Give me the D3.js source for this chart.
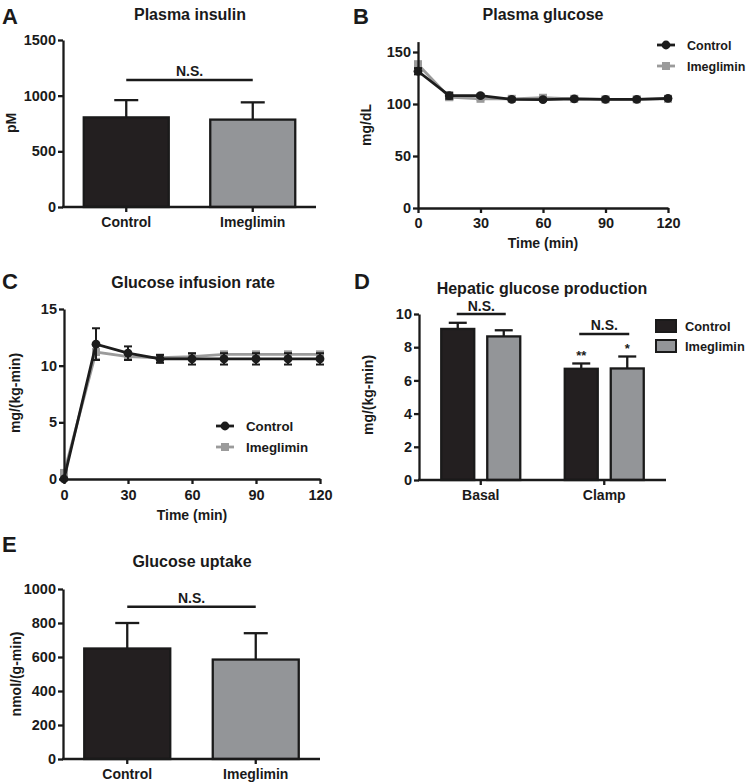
<!DOCTYPE html>
<html><head><meta charset="utf-8">
<script src="https://cdn.jsdelivr.net/npm/d3@7"></script>
<style>
body{margin:0;background:#fff}
text{font-family:"Liberation Sans",Arial,Helvetica,sans-serif;font-weight:bold;fill:#1a1a1a}
</style>
</head><body>
<svg id="c" width="749" height="782"></svg>
<script>
// ---------------- data ----------------
const groups = ["Control", "Imeglimin"];
const insulinMean = [805, 785];
const insulinErr = [155, 155];
const insulinTicks = [0, 500, 1000, 1500];

const timePoints = [0, 15, 30, 45, 60, 75, 90, 105, 120];
const timeTicks = [0, 30, 60, 90, 120];
const glucoseControl = [131.5, 108, 108, 104.5, 104.3, 105, 104.5, 104.5, 105.5];
const glucoseControlErr = [3, 3, 1.5, 1, 1, 1, 1, 1, 1];
const glucoseImeg = [138, 106.5, 105, 105, 106, 105, 104.5, 104.5, 105];
const glucoseImegErr = [3, 2.5, 1, 1, 1, 1, 1, 1, 1];
const glucoseTicks = [0, 50, 100, 150];

const girControl = [0, 11.9, 11.1, 10.6, 10.6, 10.6, 10.6, 10.6, 10.6];
const girControlErr = [0, 1.4, 0.6, 0.35, 0.5, 0.5, 0.5, 0.5, 0.5];
const girImeg = [0.5, 11.2, 10.8, 10.7, 10.8, 11.0, 11.0, 11.0, 11.0];
const girImegErr = [0.3, 0.6, 0.3, 0.2, 0.2, 0.2, 0.2, 0.2, 0.2];
const girTicks = [0, 5, 10, 15];

const hgpPhases = ["Basal", "Clamp"];
const hgpControl = [9.1, 6.7];
const hgpControlErr = [0.37, 0.32];
const hgpImeg = [8.65, 6.72];
const hgpImegErr = [0.37, 0.72];
const hgpControlMarks = ["", "**"];
const hgpImegMarks = ["", "*"];
const hgpTicks = [0, 2, 4, 6, 8, 10];

const uptakeMean = [650, 585];
const uptakeErr = [150, 155];
const uptakeTicks = [0, 200, 400, 600, 800, 1000];

const barFill = { Control: "#231f20", Imeglimin: "#939598" };
const lineCol = { Control: "#1c1c1c", Imeglimin: "#9b9b9b" };

// ---------------- helpers ----------------
const svg = d3.select("#c");
const INK = "#1a1a1a";
const FONT = '"Liberation Sans",Arial,sans-serif';

function styleAxis(a, size) {
  a.select(".domain").attr("stroke", INK).attr("stroke-width", 2.3);
  a.selectAll(".tick line").attr("stroke", INK).attr("stroke-width", 2.3);
  a.selectAll(".tick text").attr("font-size", size).attr("fill", INK)
    .style("font-family", FONT).style("font-weight", "bold");
}
function yAxis(g, y, ticks, x) {
  const a = g.append("g").attr("transform", `translate(${x},0)`)
    .call(d3.axisLeft(y).tickValues(ticks).tickSize(5).tickPadding(2).tickSizeOuter(0).tickFormat(d3.format("d")));
  styleAxis(a, 14.5);
  return a;
}
function xAxisLine(g, x0, x1, y) {
  g.append("line").attr("x1", x0 - 1).attr("x2", x1).attr("y1", y).attr("y2", y)
    .attr("stroke", INK).attr("stroke-width", 2.3);
}
function xAxisScale(g, x, ticks, y, pad) {
  const a = g.append("g").attr("transform", `translate(0,${y})`)
    .call(d3.axisBottom(x).tickValues(ticks).tickSize(5).tickPadding(pad).tickSizeOuter(0));
  styleAxis(a, 14.5);
  return a;
}
function label(txt, x, y, size, anchor = "middle", rot = 0) {
  const t = svg.append("text").attr("font-size", size).attr("text-anchor", anchor).text(txt);
  if (rot) t.attr("transform", `translate(${x},${y}) rotate(${rot})`);
  else t.attr("x", x).attr("y", y);
  return t;
}
function nsBar(x0, x1, y, ty) {
  svg.append("line").attr("x1", x0).attr("x2", x1).attr("y1", y).attr("y2", y)
    .attr("stroke", INK).attr("stroke-width", 2.5);
  label("N.S.", (x0 + x1) / 2, ty, 14);
}

// simple two-bar panel (A and E)
function barPanel(opts) {
  const g = svg.append("g");
  const y = d3.scaleLinear().domain(opts.domain).range([opts.yBot, opts.yTop]);
  const x = d3.scalePoint().domain(groups).range([opts.x0, opts.x1]).padding(0.5);
  const bw = opts.bw;
  const data = groups.map((k, i) => ({ k, v: opts.mean[i], e: opts.err[i] }));
  g.selectAll(".eb").data(data).join("line")
    .attr("x1", d => x(d.k)).attr("x2", d => x(d.k))
    .attr("y1", d => y(d.v)).attr("y2", d => y(d.v + d.e))
    .attr("stroke", INK).attr("stroke-width", 2.3);
  g.selectAll(".cap").data(data).join("line")
    .attr("x1", d => x(d.k) - opts.cap / 2).attr("x2", d => x(d.k) + opts.cap / 2)
    .attr("y1", d => y(d.v + d.e)).attr("y2", d => y(d.v + d.e))
    .attr("stroke", INK).attr("stroke-width", 2.3);
  g.selectAll("rect").data(data).join("rect")
    .attr("x", d => x(d.k) - bw / 2).attr("width", bw)
    .attr("y", d => y(d.v)).attr("height", d => y(0) - y(d.v))
    .attr("fill", d => barFill[d.k]).attr("stroke", INK).attr("stroke-width", 2.3);
  yAxis(g, y, opts.ticks, opts.x0);
  xAxisLine(g, opts.x0, opts.x1, opts.yBot);
  g.selectAll(".ct").data(groups).join("line")
    .attr("x1", d => x(d)).attr("x2", d => x(d)).attr("y1", opts.yBot).attr("y2", opts.yBot + 5)
    .attr("stroke", INK).attr("stroke-width", 2.3);
  g.selectAll(".cl").data(groups).join("text")
    .attr("x", d => x(d)).attr("y", opts.yBot + 20).attr("text-anchor", "middle")
    .attr("font-size", 14).text(d => d);
  const ns = y(opts.nsVal);
  nsBar(x(groups[0]), x(groups[1]), ns, ns - 4);
  return { x, y };
}

// line panel (B and C)
function linePanel(opts) {
  const g = svg.append("g");
  const x = d3.scaleLinear().domain([0, 120]).range([opts.x0, opts.x1]);
  const y = d3.scaleLinear().domain(opts.domain).range([opts.yBot, opts.yTop]);
  const series = [
    { k: "Imeglimin", v: opts.imeg, e: opts.imegErr },
    { k: "Control", v: opts.ctrl, e: opts.ctrlErr }
  ];
  const line = d3.line().x(d => x(d.t)).y(d => y(d.v));
  series.forEach(s => {
    const pts = timePoints.map((t, i) => ({ t, v: s.v[i], e: s.e[i] }));
    const col = lineCol[s.k];
    const eg = g.append("g");
    const withErr = pts.filter(p => p.e > 0);
    eg.selectAll(".v").data(withErr).join("line")
      .attr("x1", d => x(d.t)).attr("x2", d => x(d.t))
      .attr("y1", d => y(d.v - d.e)).attr("y2", d => y(d.v + d.e))
      .attr("stroke", col).attr("stroke-width", 2);
    [1, -1].forEach(sg => {
      eg.selectAll(".c" + (sg > 0 ? "u" : "d")).data(withErr).join("line")
        .attr("x1", d => x(d.t) - 4).attr("x2", d => x(d.t) + 4)
        .attr("y1", d => y(d.v + sg * d.e)).attr("y2", d => y(d.v + sg * d.e))
        .attr("stroke", col).attr("stroke-width", 2);
    });
    g.append("path").datum(pts).attr("d", line).attr("fill", "none")
      .attr("stroke", col).attr("stroke-width", 2.8);
    if (s.k === "Control") {
      g.selectAll(".pc").data(pts).join("circle")
        .attr("cx", d => x(d.t)).attr("cy", d => y(d.v)).attr("r", 4.4).attr("fill", col);
    } else {
      g.selectAll(".pi").data(pts).join("rect")
        .attr("x", d => x(d.t) - 4).attr("y", d => y(d.v) - 4)
        .attr("width", 8).attr("height", 8).attr("fill", col);
    }
  });
  yAxis(g, y, opts.ticks, opts.x0);
  xAxisScale(g, x, timeTicks, opts.yBot, opts.xPad);
  // legend
  const lg = [["Control", opts.legY], ["Imeglimin", opts.legY + 21]];
  lg.forEach(([k, ly]) => {
    const col = lineCol[k];
    g.append("line").attr("x1", opts.legX).attr("x2", opts.legX + 18).attr("y1", ly).attr("y2", ly)
      .attr("stroke", col).attr("stroke-width", 2.8);
    if (k === "Control") g.append("circle").attr("cx", opts.legX + 9).attr("cy", ly).attr("r", 4.4).attr("fill", col);
    else g.append("rect").attr("x", opts.legX + 5).attr("y", ly - 4).attr("width", 8).attr("height", 8).attr("fill", col);
    g.append("text").attr("x", opts.legX + 30).attr("y", ly + 5).attr("font-size", opts.legSize).text(k);
  });
  return { x, y };
}

// ---------------- Panel A ----------------
label("A", 2, 24, 22, "start");
label("Plasma insulin", 190, 20, 16);
label("pM", 16, 123, 14, "middle", -90);
barPanel({ domain: [0, 1500], yTop: 40, yBot: 207, x0: 63, x1: 316, bw: 85, cap: 24,
  mean: insulinMean, err: insulinErr, ticks: insulinTicks, nsVal: 1140 });

// ---------------- Panel B ----------------
label("B", 353, 24, 22, "start");
label("Plasma glucose", 543, 20, 16);
label("mg/dL", 371, 125, 14, "middle", -90);
linePanel({ domain: [0, 160], yTop: 41.6, yBot: 208, x0: 418, x1: 668, xPad: 5,
  ctrl: glucoseControl, ctrlErr: glucoseControlErr, imeg: glucoseImeg, imegErr: glucoseImegErr,
  ticks: glucoseTicks, legX: 657, legY: 45, legSize: 12.5 });
label("Time (min)", 543, 248, 14);

// ---------------- Panel C ----------------
label("C", 2, 289, 22, "start");
label("Glucose infusion rate", 193, 288, 16);
label("mg/(kg-min)", 20, 393, 14, "middle", -90);
linePanel({ domain: [0, 15], yTop: 309, yBot: 479, x0: 64, x1: 320, xPad: 6,
  ctrl: girControl, ctrlErr: girControlErr, imeg: girImeg, imegErr: girImegErr,
  ticks: girTicks, legX: 216, legY: 426, legSize: 13.3 });
label("Time (min)", 192, 520, 14);

// ---------------- Panel D ----------------
label("D", 354, 289, 22, "start");
label("Hepatic glucose production", 542, 294, 16);
label("mg/(kg-min)", 373, 395, 14, "middle", -90);
(function () {
  const g = svg.append("g");
  const x0 = 419, x1 = 666, yTop = 314, yBot = 480;
  const y = d3.scaleLinear().domain([0, 10]).range([yBot, yTop]);
  const xg = d3.scalePoint().domain(hgpPhases).range([x0, x1]).padding(0.5);
  const xs = d3.scalePoint().domain(groups).range([-23, 23]);
  const bw = 33;
  const data = [];
  hgpPhases.forEach((p, i) => {
    data.push({ p, k: "Control", v: hgpControl[i], e: hgpControlErr[i], m: hgpControlMarks[i] });
    data.push({ p, k: "Imeglimin", v: hgpImeg[i], e: hgpImegErr[i], m: hgpImegMarks[i] });
  });
  const cx = d => xg(d.p) + xs(d.k);
  g.selectAll(".eb").data(data).join("line")
    .attr("x1", cx).attr("x2", cx).attr("y1", d => y(d.v)).attr("y2", d => y(d.v + d.e))
    .attr("stroke", INK).attr("stroke-width", 2.3);
  g.selectAll(".cap").data(data).join("line")
    .attr("x1", d => cx(d) - 9).attr("x2", d => cx(d) + 9)
    .attr("y1", d => y(d.v + d.e)).attr("y2", d => y(d.v + d.e))
    .attr("stroke", INK).attr("stroke-width", 2.3);
  g.selectAll("rect.bar").data(data).join("rect").attr("class", "bar")
    .attr("x", d => cx(d) - bw / 2).attr("width", bw)
    .attr("y", d => y(d.v)).attr("height", d => y(0) - y(d.v))
    .attr("fill", d => barFill[d.k]).attr("stroke", INK).attr("stroke-width", 2.3);
  g.selectAll(".ast").data(data.filter(d => d.m)).join("text")
    .attr("x", cx).attr("y", d => y(d.v + d.e) - 3).attr("text-anchor", "middle")
    .attr("font-size", 13).text(d => d.m);
  yAxis(g, y, hgpTicks, x0);
  xAxisLine(g, x0, x1, yBot);
  g.selectAll(".ct").data(hgpPhases).join("line")
    .attr("x1", d => xg(d)).attr("x2", d => xg(d)).attr("y1", yBot).attr("y2", yBot + 5)
    .attr("stroke", INK).attr("stroke-width", 2.3);
  g.selectAll(".cl").data(hgpPhases).join("text")
    .attr("x", d => xg(d)).attr("y", yBot + 20).attr("text-anchor", "middle")
    .attr("font-size", 14).text(d => d);
  // N.S. brackets
  const nsB = y(10), nsC = y(8.8);
  nsBar(xg("Basal") - 24, xg("Basal") + 25, nsB, nsB - 3);
  nsBar(xg("Clamp") - 25, xg("Clamp") + 25, nsC, nsC - 4);
  // legend
  groups.forEach((k, i) => {
    const ly = 320 + i * 20;
    g.append("rect").attr("x", 656).attr("y", ly).attr("width", 20).attr("height", 12)
      .attr("fill", barFill[k]).attr("stroke", INK).attr("stroke-width", 2);
    g.append("text").attr("x", 685).attr("y", ly + 11).attr("font-size", 12.8).text(k);
  });
})();

// ---------------- Panel E ----------------
label("E", 2, 552, 22, "start");
label("Glucose uptake", 192, 567, 16);
label("nmol/(g-min)", 21, 674, 14, "middle", -90);
barPanel({ domain: [0, 1000], yTop: 589, yBot: 759, x0: 63, x1: 320, bw: 86, cap: 24,
  mean: uptakeMean, err: uptakeErr, ticks: uptakeTicks, nsVal: 895 });
</script>
</body></html>
